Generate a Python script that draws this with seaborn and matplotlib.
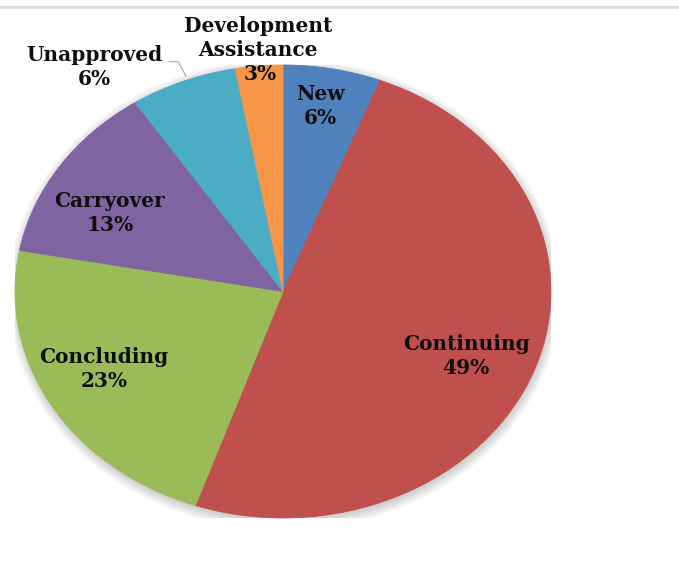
import numpy as np
import matplotlib
matplotlib.use("Agg")
import matplotlib.pyplot as plt
import seaborn as sns
from matplotlib.patches import Ellipse
from matplotlib.lines import Line2D

categories = ["New", "Continuing", "Concluding", "Carryover", "Unapproved", "Development\nAssistance"]
shares = [5.9, 49.4, 22.6, 12.8, 6.45, 2.85]
pct_labels = ["6%", "49%", "23%", "13%", "6%", "3%"]
colors = ["#4F81BD", "#C0504D", "#9BBB59", "#8064A2", "#4BACC6", "#F79646"]

sns.set_theme(style="white")
plt.rcParams['font.family'] = ['DejaVu Serif']

fig = plt.figure(figsize=(6.79, 5.71), dpi=100)
ax = fig.add_axes([15 / 679, 53 / 571, 536 / 679, 453 / 571])

# soft shadow
for k in range(6):
    ax.add_patch(Ellipse((0.004, -0.012), 2 * (1.0 + 0.006 * k), 2 * (1.0 + 0.008 * k),
                         facecolor="#000000", alpha=0.03, edgecolor="none", zorder=0))

pal = sns.color_palette(colors)
wedges, _ = ax.pie(shares, colors=pal, startangle=90, counterclock=False)
for w, c in zip(wedges, pal):
    w.set_edgecolor(c)
    w.set_linewidth(0.6)
    w.set_zorder(2)
ax.set_aspect('auto')
ax.set_xlim(-1, 1)
ax.set_ylim(-1, 1)
ax.axis('off')

# label anchor positions (axes data units of the unit pie)
label_pos = [(0.138, 0.820), (0.683, -0.285), (-0.668, -0.340), (-0.646, 0.347)]
tc = "#0d0d0d"
fs = 14.5
ls = 1.25
for i in range(4):
    x, y = label_pos[i]
    ax.text(x, y, f"{categories[i]}\n{pct_labels[i]}",
            ha="center", va="center", fontsize=fs, fontweight="bold", color=tc,
            linespacing=ls, zorder=5)

# Unapproved (outside with leader)
ax.text(-0.705, 0.990, f"{categories[4]}\n{pct_labels[4]}", ha="center", va="center",
        fontsize=fs, fontweight="bold", color=tc, linespacing=ls, zorder=5, clip_on=False)
ax.add_line(Line2D([-0.425, -0.39, -0.362], [1.015, 1.015, 0.95], color="#a6a6a6", lw=0.8,
                   clip_on=False, zorder=5))

# Development Assistance
ax.text(-0.093, 1.12, categories[5], ha="center", va="center", fontsize=fs, fontweight="bold",
        color=tc, linespacing=ls, zorder=5, clip_on=False)
ax.text(-0.086, 0.96, pct_labels[5], ha="center", va="center",
        fontsize=fs, fontweight="bold", color=tc, zorder=5)

fig.add_artist(Line2D([0, 1], [1 - 7 / 571] * 2, transform=fig.transFigure, color="#d9d9d9", lw=2))

fig.savefig("out.png", dpi=100, facecolor="white")
